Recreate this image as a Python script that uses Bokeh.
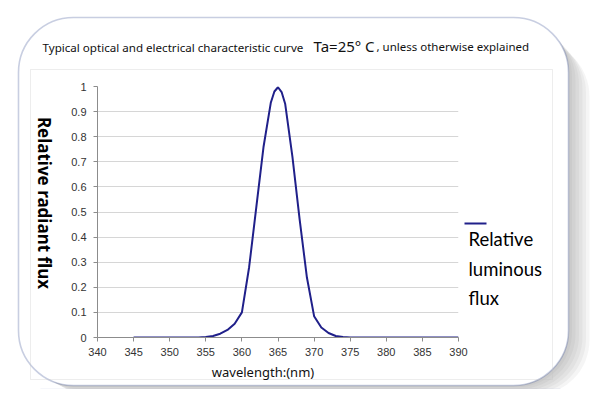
import math
from bokeh.plotting import figure
from bokeh.models import (BoxAnnotation, Label, FixedTicker, NumeralTickFormatter,
                          Range1d)
from bokeh.embed import file_html
from bokeh.resources import INLINE

# ---- data ----
wavelength = [345, 346, 347, 348, 349, 350, 351, 352, 353, 354, 355, 356, 357,
              358, 359, 360, 361, 362, 363, 364, 364.5, 365, 365.5, 366, 367,
              368, 369, 370, 371, 372, 373, 374, 375, 376, 377, 378, 379, 380,
              381, 382, 383, 384, 385, 386, 387, 388, 389, 390]
rel_flux = [0, 0, 0, 0, 0, 0, 0, 0, 0, 0, 0.002, 0.006, 0.015, 0.03, 0.055,
            0.10, 0.28, 0.52, 0.76, 0.935, 0.98, 0.997, 0.978, 0.93, 0.72,
            0.47, 0.24, 0.085, 0.04, 0.018, 0.006, 0.002, 0, 0, 0, 0, 0, 0,
            0, 0, 0, 0, 0, 0, 0, 0, 0, 0]
x_ticks = [340, 345, 350, 355, 360, 365, 370, 375, 380, 385, 390]
y_ticks = [0, 0.1, 0.2, 0.3, 0.4, 0.5, 0.6, 0.7, 0.8, 0.9, 1.0]

title_main = "Typical optical and electrical characteristic curve"
title_temp = "Ta=25\u00b0 C"
title_tail = ", unless otherwise explained"
y_label = "Relative radiant flux"
x_label = "wavelength:(nm)"
legend_lines = ["Relative", "luminous", "flux"]

W, H = 592, 389
FL, FT, FR, FB = 97, 86, 458, 337   # pixel box of the plotting frame
CURVE = "#20208a"

# ---------- background sheet (pixel coordinates) ----------
bg = figure(width=W, height=H, output_backend="svg", toolbar_location=None,
            x_range=Range1d(0, W), y_range=Range1d(H, 0), min_border=0,
            x_axis_type=None, y_axis_type=None)
bg.grid.visible = False
bg.outline_line_color = None
bg.background_fill_color = "white"
bg.border_fill_color = "white"


def box(l, t, r, b, **kw):
    return BoxAnnotation(left=l, right=r, top=t, bottom=b, **kw)


# faint reflection band under the card
bg.add_layout(box(40, 388, 560, 397, fill_color="#c9d2e6", fill_alpha=0.35,
                  line_color=None))
# soft shadow
for i in range(1, 7):
    bg.add_layout(box(18 + 3 * i, 17 + 4 * i, 568 + 3.5 * i, 385 + 1.6 * i,
                      fill_color="#707070", fill_alpha=0.07, line_color=None,
                      border_radius=55))
# rounded card
bg.add_layout(box(18, 17, 568, 385, fill_color="white", fill_alpha=1.0,
                  line_color="#4a5d9c", line_width=1.6, border_radius=55))
# inner chart border
bg.add_layout(box(30, 69, 552, 379, fill_color=None, line_color="#c4c4c4",
                  line_width=1))


def lab(px, py, text, font, size, **kw):
    bg.add_layout(Label(x=px, y=py, text=text, text_font=font,
                        text_font_size=size, text_baseline="middle", **kw))


lab(42, 46.5, title_main, "Noto Sans", "11.6px", text_color="#111111")
lab(313, 45, title_temp, "Noto Sans", "15px", text_color="#111111")
lab(376, 46, title_tail, "Noto Sans", "11.5px", text_color="#111111")
lab(44, 202.5, y_label, "Noto Sans", "17px", text_color="#000000",
    text_align="center", angle=-math.pi / 2, text_font_style="bold")
lab(262.5, 371.5, x_label, "Noto Sans", "13px", text_color="#111111",
    text_align="center")

bg.add_layout(box(464, 222, 486, 224, fill_color=CURVE, fill_alpha=1.0,
                  line_color=None))
for i, t in enumerate(legend_lines):
    lab(468, 238.5 + 29.5 * i, t, "Lato", "18.5px", text_color="#000000")

# ---------- chart (overlaid on the sheet) ----------
p = figure(width=W, height=H, output_backend="svg", toolbar_location=None,
           x_range=Range1d(340, 390), y_range=Range1d(0, 1),
           min_border_left=FL, min_border_right=W - FR,
           min_border_top=FT, min_border_bottom=H - FB,
           styles={"position": "absolute", "left": "0px", "top": "0px"})
p.outline_line_color = None
p.background_fill_color = None
p.border_fill_color = None

p.line(wavelength, rel_flux, line_color=CURVE, line_width=2,
       line_join="round")

p.xaxis.ticker = FixedTicker(ticks=x_ticks)
p.yaxis.ticker = FixedTicker(ticks=y_ticks)
p.yaxis.formatter = NumeralTickFormatter(format="0.[0]")
for ax in (p.xaxis[0], p.yaxis[0]):
    ax.axis_line_color = "#8c8c8c"
    ax.major_tick_line_color = "#8c8c8c"
    ax.major_tick_out = 4
    ax.major_tick_in = 0
    ax.minor_tick_line_color = None
    ax.major_label_text_font = "Liberation Sans"
    ax.major_label_text_font_size = "11px"
    ax.major_label_text_color = "#333333"
p.xaxis.major_label_standoff = 6
p.yaxis.major_label_standoff = 7
p.xgrid.grid_line_color = None
p.ygrid.grid_line_color = "#d6d6d6"
p.ygrid.grid_line_width = 1

open("out.html", "w").write(file_html([bg, p], INLINE))
